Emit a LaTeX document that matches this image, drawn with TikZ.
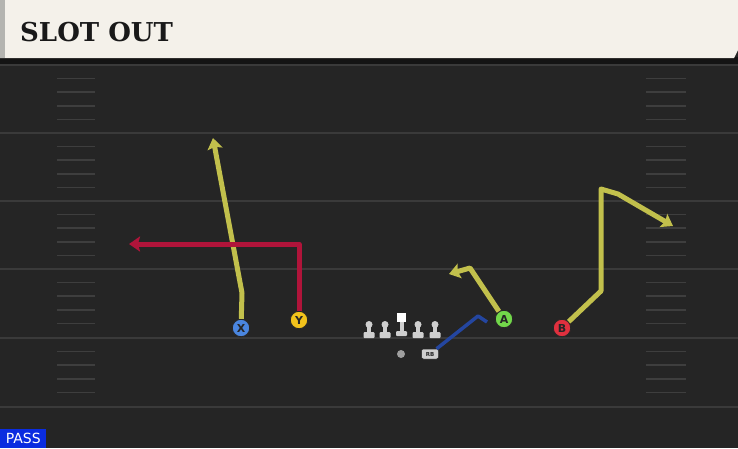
\documentclass[tikz,border=0pt]{standalone}
\usepackage{xcolor}
\usepackage{tikz}
\usepackage{fontspec}
\setsansfont{DejaVu Sans}
\newfontfamily\playtitlefont{DejaVu Serif}
\usetikzlibrary{arrows.meta, positioning, calc}
\definecolor{fieldgray}{HTML}{252525}
\definecolor{yardline}{HTML}{3A3A3A}
\definecolor{hashgray}{HTML}{3E3E3E}
\definecolor{headercream}{HTML}{F4F1EA}
\definecolor{headerdark}{HTML}{141414}
\definecolor{stripgray}{HTML}{B4B4B0}
\definecolor{routeolive}{HTML}{C2C04C}
\definecolor{routered}{HTML}{B0143A}
\definecolor{routeblue}{HTML}{2446A0}
\definecolor{playerblue}{HTML}{4A86E0}
\definecolor{playeryellow}{HTML}{F2C21B}
\definecolor{playergreen}{HTML}{72D84A}
\definecolor{playerred}{HTML}{E0303E}
\definecolor{linemangray}{HTML}{CFCFCF}
\definecolor{passblue}{HTML}{0A2CE0}

\tikzset{
  player/.style={circle, draw=black!85, line width=0.9pt, minimum size=17.5pt, inner sep=0pt,
    text=black!85, font=\fontsize{11}{11}\selectfont\sffamily\bfseries},
  route/.style={line width=5pt, line join=round},
  routetip/.style={-{Stealth[length=11pt, width=15pt, inset=2pt]}}
}

\begin{document}
\begin{tikzpicture}[x=1pt, y=-1pt]
  \useasboundingbox (0,0) rectangle (738,448);
  \fill[fieldgray] (0,0) rectangle (738,448);

  % yard lines
  \foreach \yl in {65,133,201,269,338,407}
    \fill[yardline] (0,\yl-1) rectangle (738,\yl+1);

  % hash marks, both sides
  \foreach \yl in {65,133,201,269,338} {
    \foreach \k in {1,...,4} {
      \draw[hashgray, line width=1.6pt] (57,\yl+13.6*\k) -- (95,\yl+13.6*\k);
      \draw[hashgray, line width=1.6pt] (646,\yl+13.6*\k) -- (686,\yl+13.6*\k);
    }
  }

  % header
  \fill[headerdark] (0,57) rectangle (738,64);
  \fill[headercream] (0,0) -- (738,0) -- (738,50) -- (734,58) -- (0,58) -- cycle;
  \fill[stripgray] (0,0) rectangle (5,58);
  \node[anchor=west, text=black!90, inner sep=0pt,
    font=\fontsize{26}{26}\selectfont\playtitlefont\bfseries] (title) at (20,32) {SLOT OUT};

  % offensive line
  \foreach \lx in {369,385,418,435} {
    \fill[linemangray] (\lx,324.5) circle (3.5);
    \fill[linemangray] (\lx-2,325) rectangle (\lx+2,333);
    \fill[linemangray, rounded corners=1pt] (\lx-5.5,332) rectangle (\lx+5.5,338);
  }
  \fill[white] (397,313) rectangle (406,322);
  \fill[linemangray] (399.5,322) rectangle (403.5,332);
  \fill[linemangray, rounded corners=1pt] (396,331) rectangle (407,336);

  % backfield
  \node[circle, fill=gray!75, inner sep=0pt, minimum size=8pt] (qb) at (401,354) {};
  \node[fill=linemangray, draw=black!85, line width=0.5pt, rounded corners=2pt, inner sep=0pt,
    minimum width=17pt, minimum height=10pt, text=black!85,
    font=\fontsize{5.5}{5.5}\selectfont\sffamily\bfseries] (rb) at (430,354) {RB};

  % receivers
  \node[player, fill=playerblue] (x) at (241,328) {X};
  \node[player, fill=playeryellow] (y) at (299,320) {Y};
  \node[player, fill=playergreen] (a) at (504,319) {A};
  \node[player, fill=playerred] (b) at (562,328) {B};

  % route points
  \coordinate (xbreak) at (242,293);
  \coordinate (xend) at (213,138);
  \coordinate (ybreak) at (299,244);
  \coordinate (yend) at (129,244);
  \coordinate (abreak) at (470,268);
  \coordinate (aend) at (449,274);
  \coordinate (bbreak) at (601,291);
  \coordinate (btop) at (601,189);
  \coordinate (bturn) at (618,194);
  \coordinate (bend) at (673,226);
  \coordinate (rbbreak) at (478,316);
  \coordinate (rbend) at (487,322);

  % routes
  \draw[route, routetip, routeolive] (x) -- (xbreak) -- (xend);
  \draw[route, routetip, routered] (y) -- (ybreak) -- (yend);
  \draw[route, routetip, routeolive] (a) -- (abreak) -- (aend);
  \draw[route, routetip, routeolive] (b) -- (bbreak) -- (btop) -- (bturn) -- (bend);
  \draw[route, routeblue, line width=3.5pt] (rb) -- (rbbreak) -- (rbend);

  % play type
  \node[fill=passblue, text=white, anchor=south west, inner sep=0pt,
    minimum width=46pt, minimum height=19pt,
    font=\fontsize{14}{14}\selectfont\sffamily] (passlabel) at (0,448) {PASS};
\end{tikzpicture}
\end{document}
